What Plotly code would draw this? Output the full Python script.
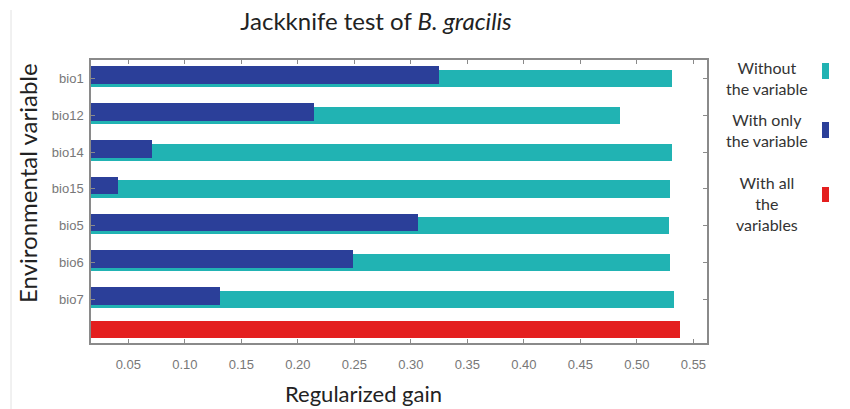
import plotly.graph_objects as go

# Jackknife of regularized training gain for B. gracilis
variables = ["bio1", "bio12", "bio14", "bio15", "bio5", "bio6", "bio7"]
gain_without = [0.531, 0.485, 0.531, 0.529, 0.528, 0.529, 0.533]
gain_only = [0.325, 0.214, 0.071, 0.041, 0.306, 0.249, 0.131]
gain_all = [0.538]
series_names = ["Without<br>the variable", "With only<br>the variable", "With all<br>the<br>variables"]
x_ticks = [0.05, 0.10, 0.15, 0.20, 0.25, 0.30, 0.35, 0.40, 0.45, 0.50, 0.55]

C_WITHOUT = "#21b3b3"
C_ONLY = "#2b3f99"
C_ALL = "#e41f1f"

W, H = 850, 409
L, R, T, B = 91, 707, 60, 343  # plot area in pixels

def px(x):
    return (x - L) / (R - L)

def py(y):
    return (B - y) / (B - T)

rows = list(range(len(variables)))
all_row = 6.83

fig = go.Figure()
fig.add_trace(go.Bar(
    y=rows, x=gain_without, orientation="h", name="Without the variable",
    marker=dict(color=C_WITHOUT, line=dict(width=0)),
    width=0.47, offset=-0.23, showlegend=False,
))
fig.add_trace(go.Bar(
    y=rows, x=gain_only, orientation="h", name="With only the variable",
    marker=dict(color=C_ONLY, line=dict(width=0)),
    width=0.48, offset=-0.33, showlegend=False,
))
fig.add_trace(go.Bar(
    y=[all_row], x=gain_all, orientation="h", name="With all the variables",
    marker=dict(color=C_ALL, line=dict(width=0)),
    width=0.45, offset=-0.225, showlegend=False,
))

axis_common = dict(
    showgrid=False, zeroline=False, showline=True, linecolor="#8a8a8a",
    linewidth=1.5, mirror="ticks", ticks="inside", ticklen=4,
    tickcolor="#8a8a8a", tickfont=dict(family="Liberation Sans", size=13, color="#777777"),
)

fig.update_layout(
    width=W, height=H,
    margin=dict(l=L, r=W - R, t=T, b=H - B),
    paper_bgcolor="white", plot_bgcolor="white",
    barmode="overlay", bargap=0,
    title=dict(
        text="Jackknife test of <i>B. gracilis</i>",
        x=376 / W, xref="container", xanchor="center",
        y=1 - 22 / H, yref="container", yanchor="middle",
        font=dict(family="Lato", size=24, color="#222222"),
    ),
    xaxis=dict(
        range=[0.017, 0.562], tickvals=x_ticks,
        ticktext=[f"{v:.2f}" for v in x_ticks], ticklabelstandoff=9,
        **axis_common,
    ),
    yaxis=dict(
        range=[7.19, -0.503], tickvals=rows, ticktext=variables,
        ticklabelstandoff=3, **axis_common,
    ),
    showlegend=False,
)

annotations = [
    dict(text="Environmental variable", x=px(27), y=py(183), textangle=-90,
         font=dict(family="Lato", size=24, color="#222222")),
    dict(text="Regularized gain", x=px(363), y=py(393),
         font=dict(family="Lato", size=22, color="#222222")),
]
legend_y = [78, 130, 203]
for name, yc in zip(series_names, legend_y):
    annotations.append(dict(text=name, x=px(767), y=py(yc),
                            font=dict(family="Lato", size=16, color="#333333")))
for a in annotations:
    a.update(xref="paper", yref="paper", xanchor="center", yanchor="middle",
             showarrow=False)
fig.update_layout(annotations=annotations)

# colour keys beside the legend texts
for col, (y0, y1) in zip([C_WITHOUT, C_ONLY, C_ALL], [(63, 79), (122, 138), (187, 202)]):
    fig.add_shape(type="rect", xref="paper", yref="paper",
                  x0=px(822), x1=px(829), y0=py(y1), y1=py(y0),
                  fillcolor=col, line=dict(width=0))

# faint page border at the left
fig.add_shape(type="line", xref="paper", yref="paper",
              x0=px(11), x1=px(11), y0=py(10), y1=py(409),
              line=dict(color="#e2e2e2", width=1))

fig.write_html("out.html")
